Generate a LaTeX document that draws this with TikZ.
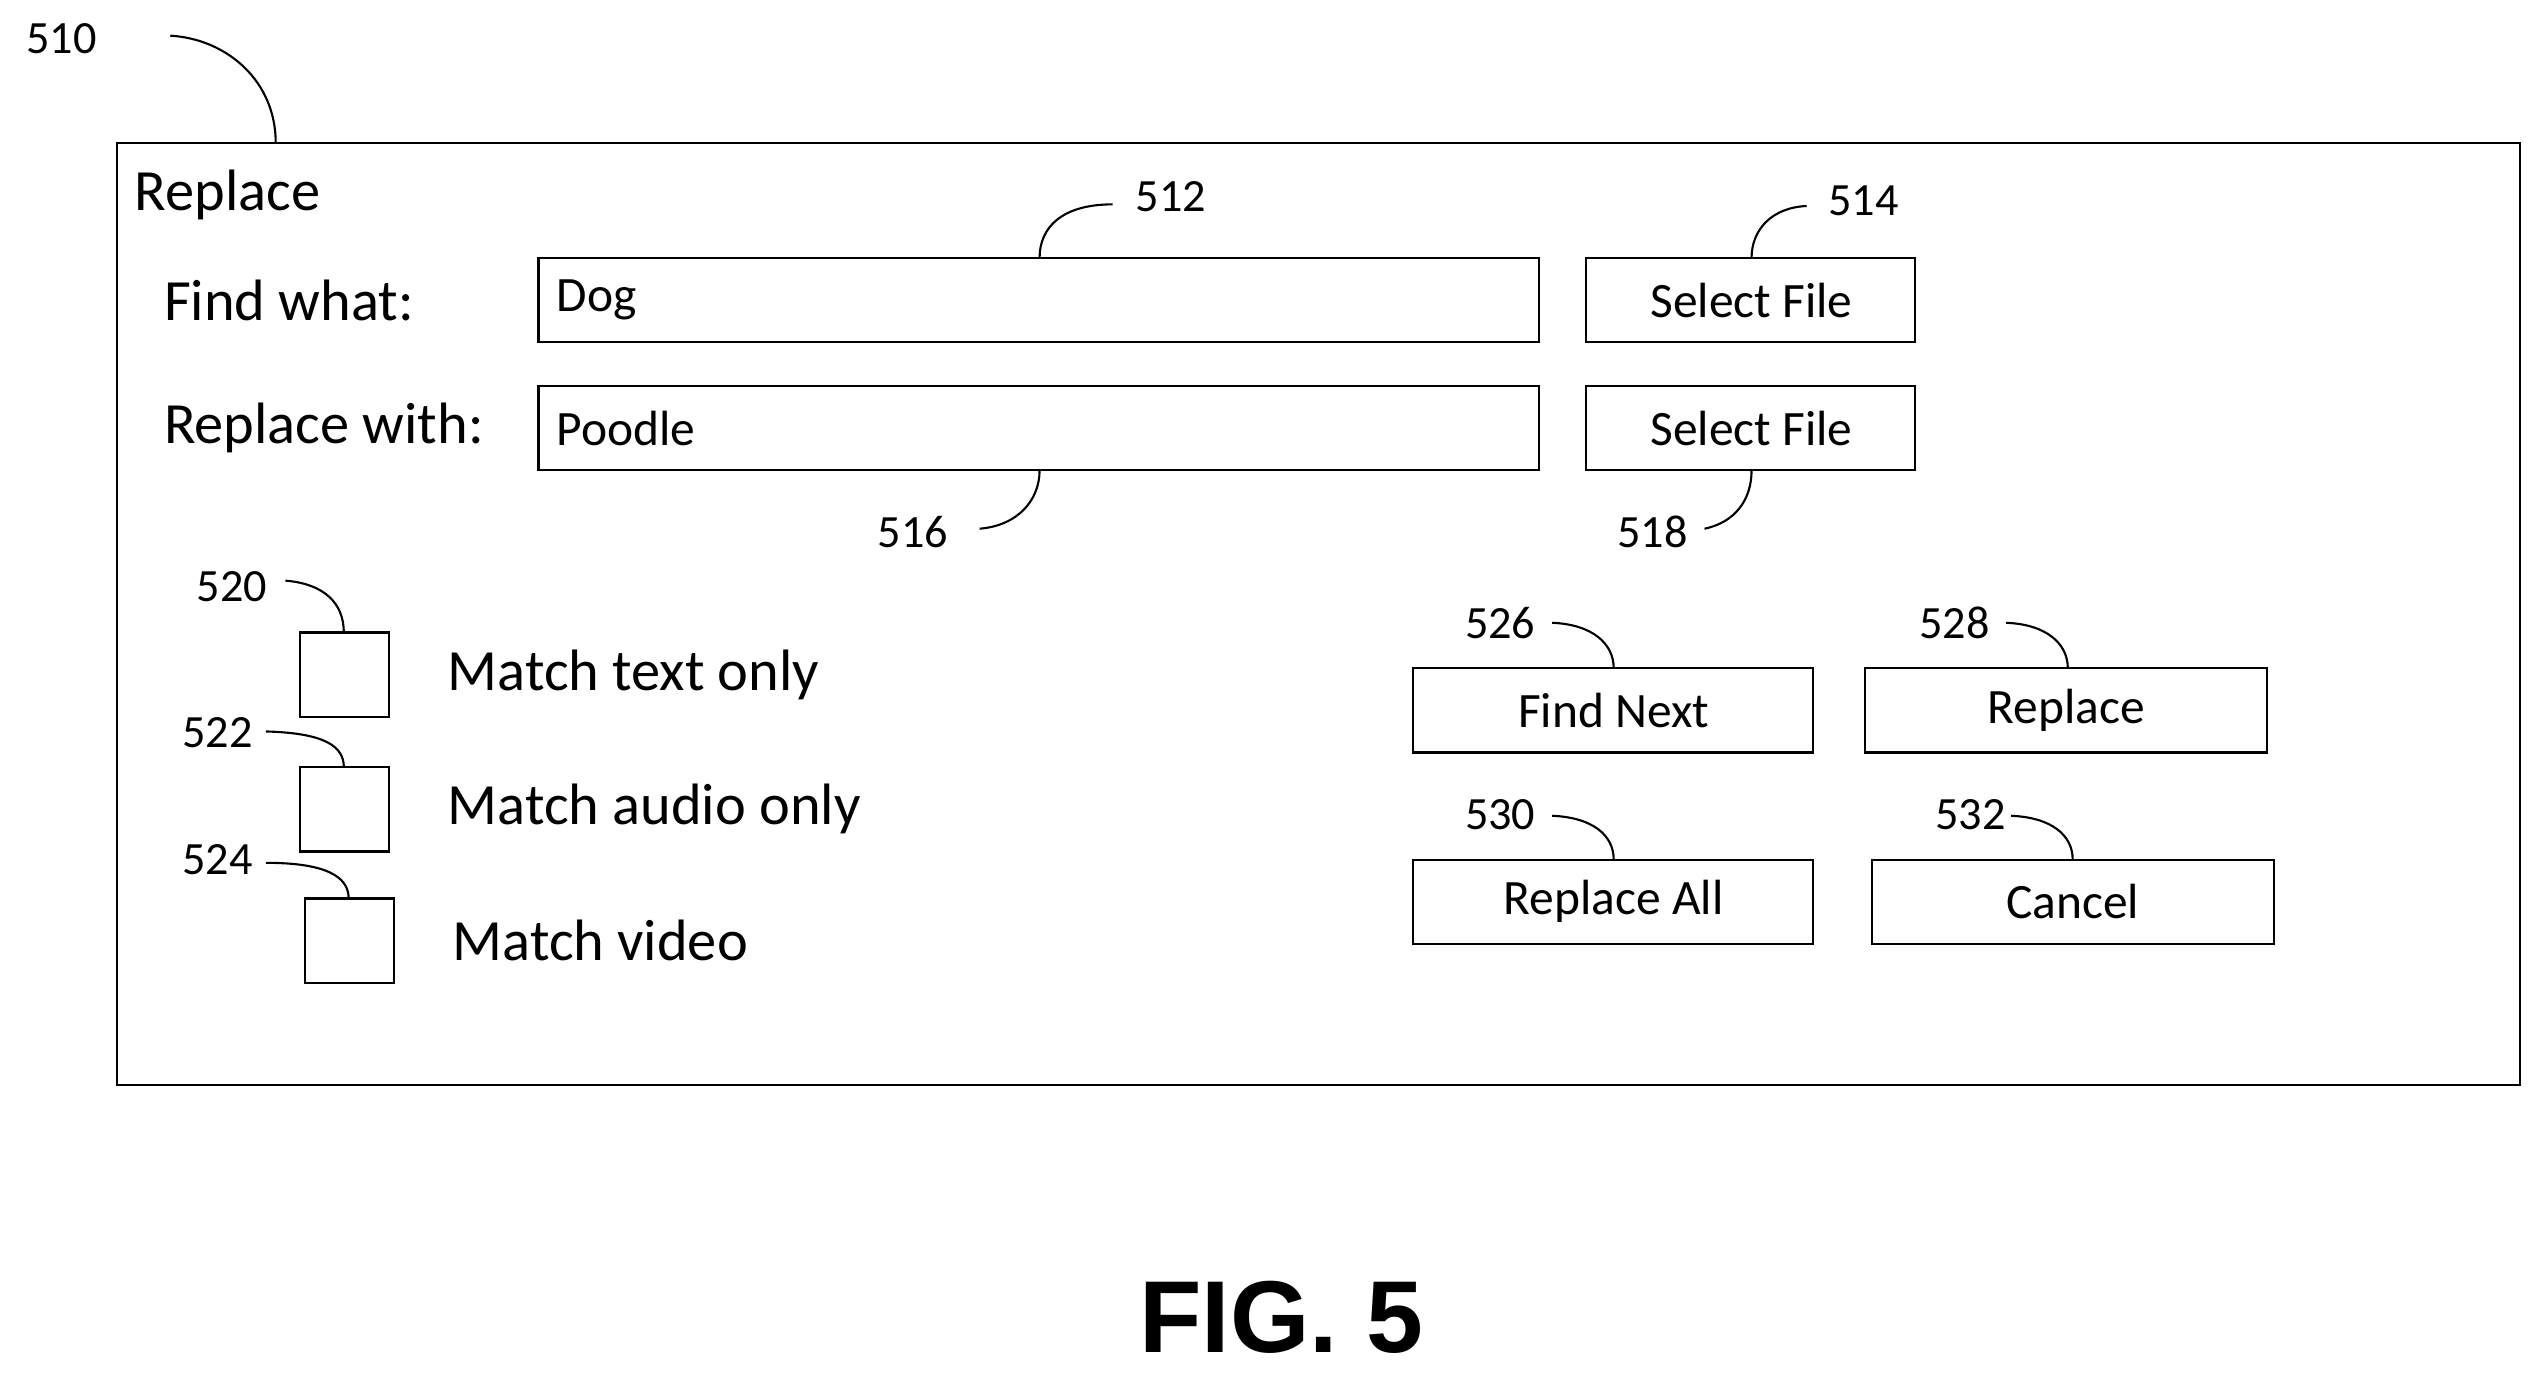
\documentclass[tikz,border=0pt]{standalone}
\usepackage{fontspec}
\setmainfont{Carlito}
\newfontfamily\figfont{Liberation Sans}
\begin{document}
\begin{tikzpicture}[x=1pt,y=-1pt,
  box/.style={draw,line width=1.3pt},
  lbl/.style={font=\fontsize{36}{40}\selectfont,anchor=west,inner sep=0},
  btn/.style={font=\fontsize{30.5}{34}\selectfont},
  num/.style={font=\fontsize{28.5}{30}\selectfont,inner sep=0},
  lead/.style={line width=1.3pt}]
\useasboundingbox (0,0) rectangle (1568,847);
\draw[box] (72,88) rectangle (1554,669);
\node[num] (n510) at (38,24) {510};
\draw[lead] (105,22) .. controls (140,24) and (170,50) .. (170,88);
\node[lbl] (title) at (83,120) {Replace};
\node[lbl] (fw) at (101,185) {Find what:};
\node[lbl] (rw) at (101,264) {Replace with:};
\draw[box] (332,159) rectangle (949,211); \node[btn,anchor=west,inner sep=0] (dog) at (343,185) {Dog};
\draw[box] (332,238) rectangle (949,290); \node[btn,anchor=west,inner sep=0] (poo) at (343,264) {Poodle};
\draw[box] (978,159) rectangle (1181,211); \node[btn] (sf1) at (1080,185) {Select File};
\draw[box] (978,238) rectangle (1181,290); \node[btn] (sf2) at (1080,264) {Select File};
\node[num] at (722,121) {512};
\draw[lead] (686,126) .. controls (655,126) and (641,140) .. (641,159);
\node[num] at (1149,124) {514};
\draw[lead] (1114,127) .. controls (1092,128) and (1080,142) .. (1080,159);
\node[num] at (563,328) {516};
\draw[lead] (604,326) .. controls (628,324) and (641,308) .. (641,290);
\node[num] at (1019,328) {518};
\draw[lead] (1051,326) .. controls (1070,322) and (1080,308) .. (1080,290);
\draw[box] (185,390) rectangle (240,442);
\draw[box] (185,473) rectangle (240,525);
\draw[box] (188,554) rectangle (243,606);
\node[lbl] at (276,416) {Match text only};
\node[lbl] at (276,499) {Match audio only};
\node[lbl] at (279,580) {Match video};
\node[num] at (143,362) {520};
\draw[lead] (176,358) .. controls (200,360) and (212,372) .. (212,390);
\node[num] at (134,452) {522};
\draw[lead] (164,451) .. controls (200,452) and (212,460) .. (212,473);
\node[num] at (134,530) {524};
\draw[lead] (164,532) .. controls (200,532) and (215,540) .. (215,554);
\draw[box] (871,412) rectangle (1118,464); \node[btn] at (995,438) {Find Next};
\draw[box] (1150,412) rectangle (1398,464); \node[btn] at (1274,438) {Replace};
\draw[box] (871,530) rectangle (1118,582); \node[btn] at (995,556) {Replace All};
\draw[box] (1154,530) rectangle (1402,582); \node[btn] at (1278,556) {Cancel};
\node[num] at (925,384) {526};
\draw[lead] (957,384) .. controls (982,385) and (995,397) .. (995,412);
\node[num] at (1205,384) {528};
\draw[lead] (1237,384) .. controls (1262,385) and (1275,397) .. (1275,412);
\node[num] at (925,502) {530};
\draw[lead] (957,503) .. controls (982,504) and (995,515) .. (995,530);
\node[num] at (1215,502) {532};
\draw[lead] (1240,503) .. controls (1265,504) and (1278,515) .. (1278,530);
\node[font=\figfont\bfseries\fontsize{63}{68}\selectfont] at (790,812) {FIG. 5};
\end{tikzpicture}
\end{document}
